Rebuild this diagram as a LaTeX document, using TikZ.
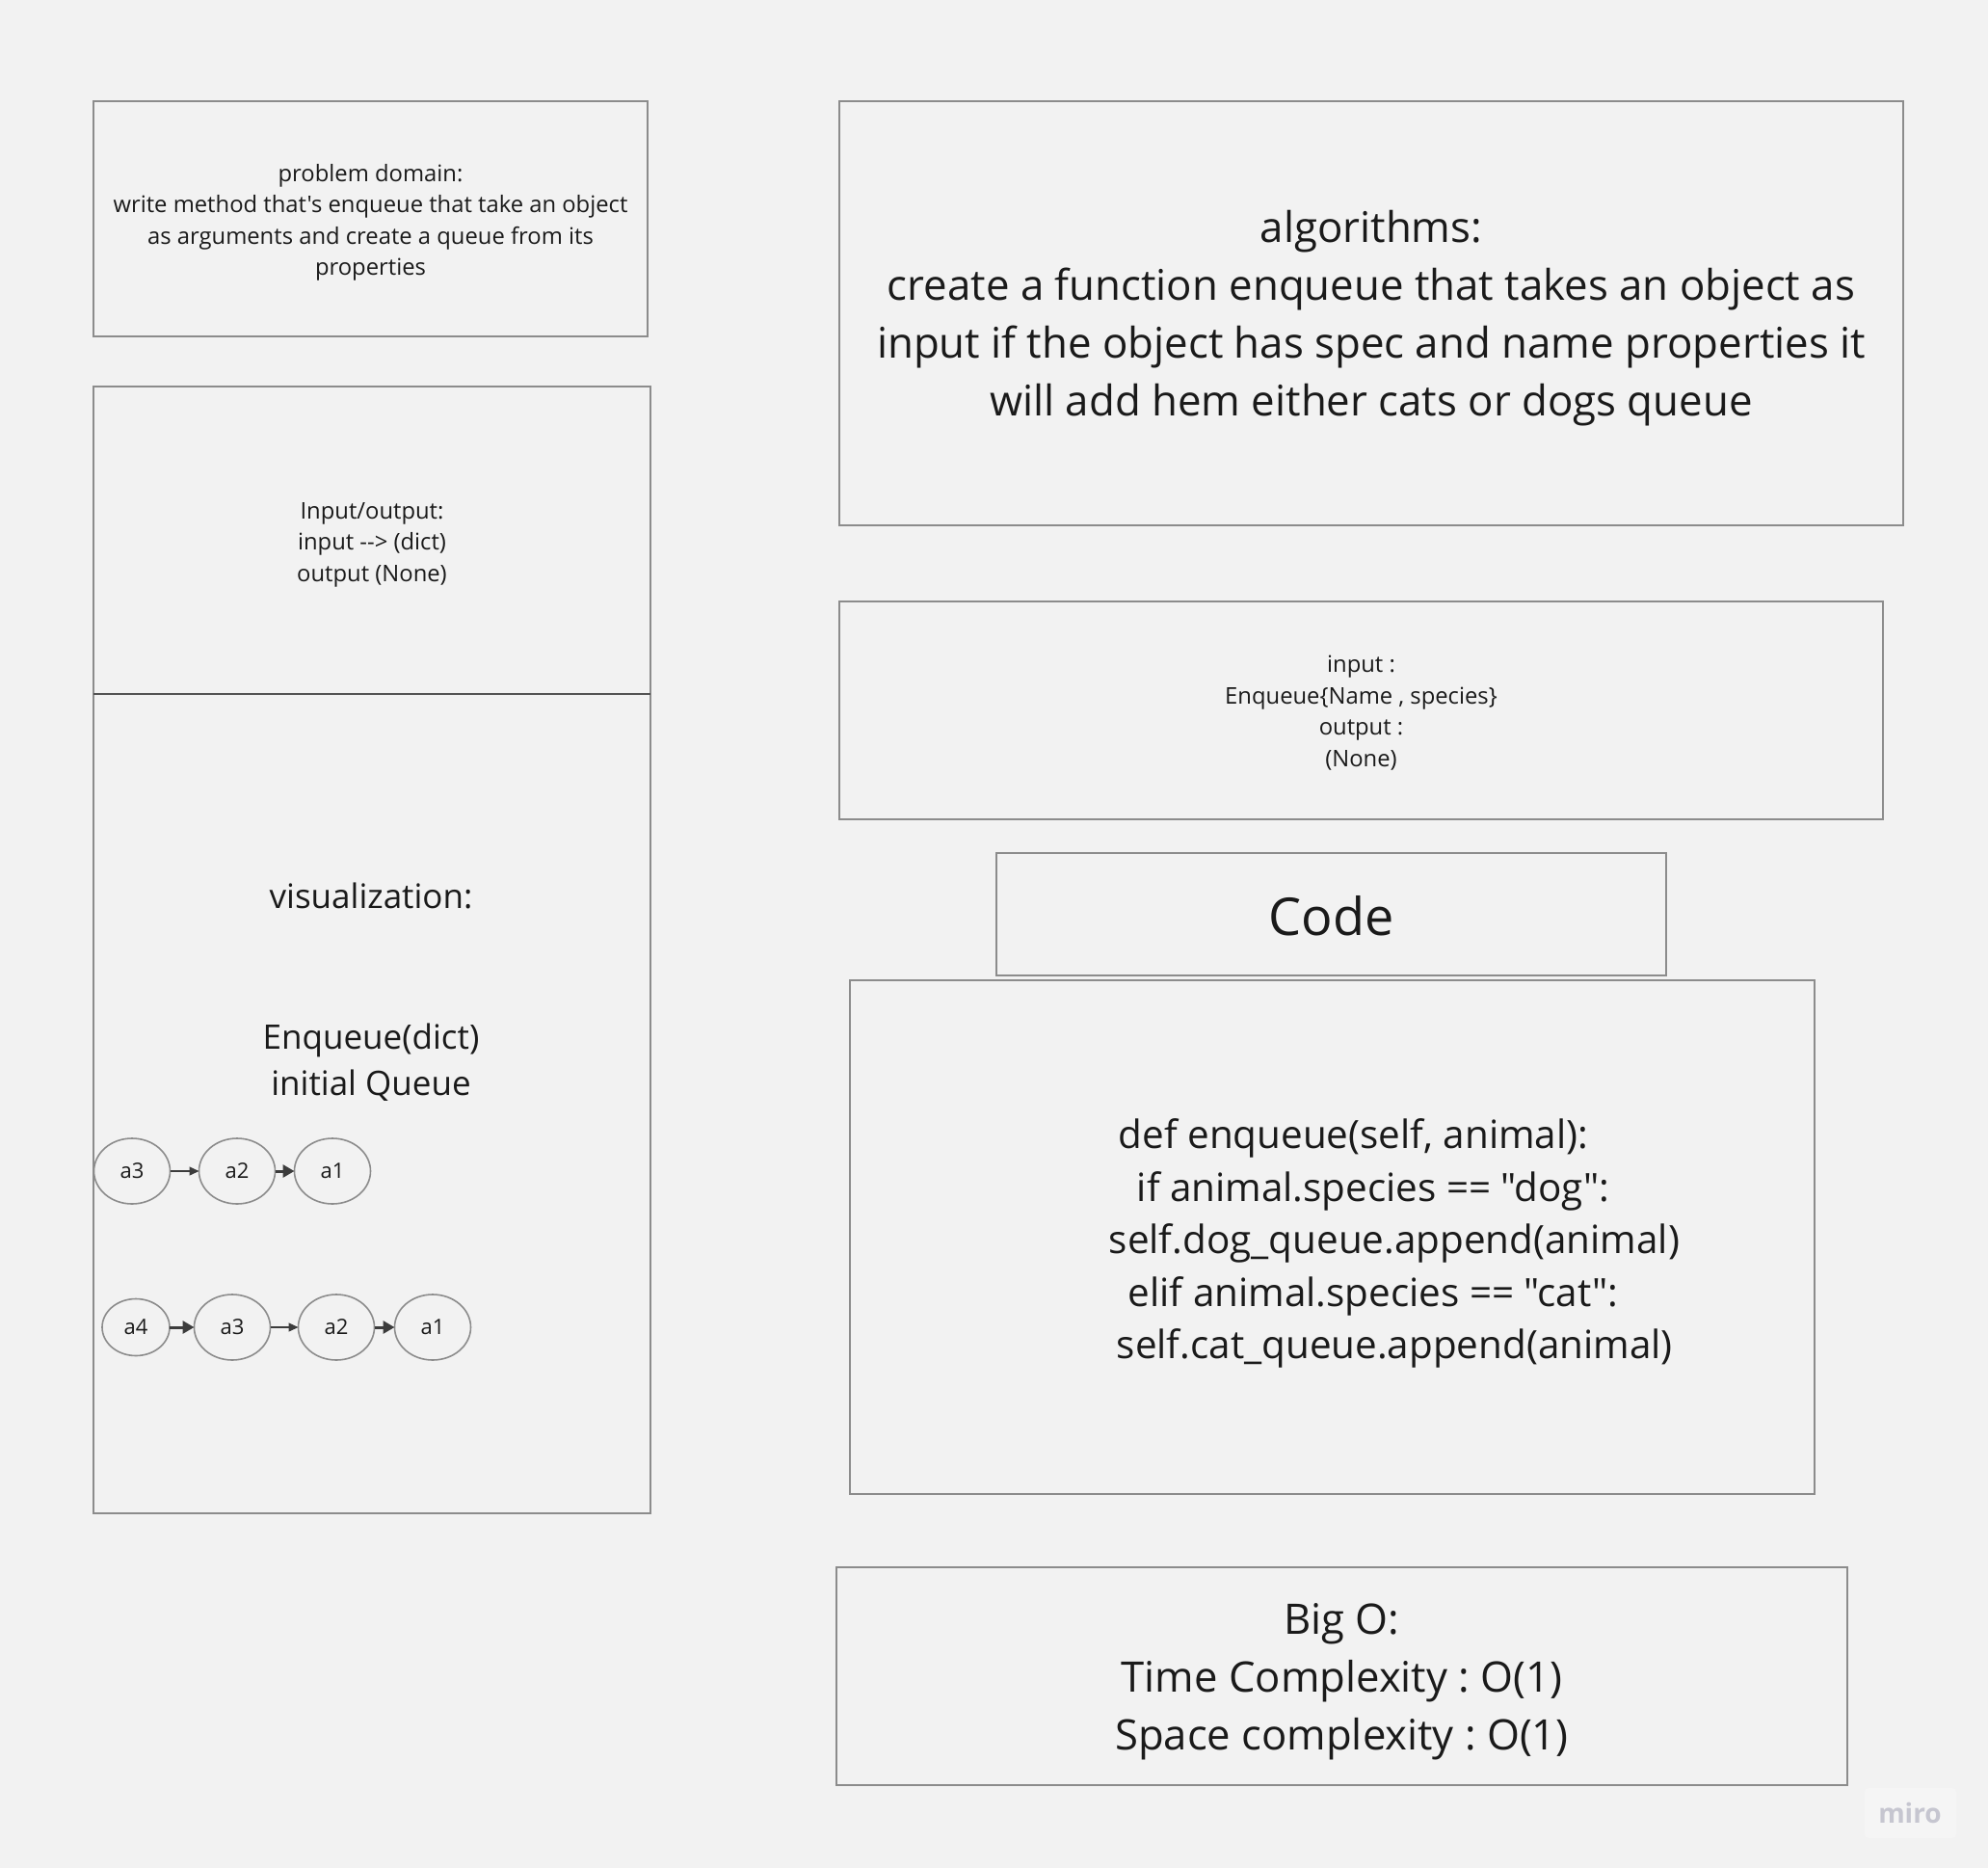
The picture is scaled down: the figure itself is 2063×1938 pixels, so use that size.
\documentclass[tikz,border=0pt]{standalone}
\usepackage{fontspec}
\setmainfont{Open Sans}[Ligatures=TeXOff]
\usetikzlibrary{shapes.geometric, arrows.meta}
\frenchspacing

\definecolor{bgcol}{HTML}{F2F2F2}
\definecolor{boxline}{HTML}{8C8C8C}
\definecolor{ink}{HTML}{1A1A1A}
\definecolor{mirogray}{HTML}{C6C6D0}

\begin{document}
\begin{tikzpicture}[x=0.5pt, y=-0.5pt, line width=0.8pt,
  box/.style={draw=boxline, inner sep=0pt, outer sep=0pt},
  txt/.style={text=ink, align=center, inner sep=0pt},
  small/.style={font=\fontsize{11.9}{16.25}\selectfont},
  mid/.style={font=\fontsize{17.5}{23.7}\selectfont},
  big/.style={font=\fontsize{21.9}{30}\selectfont},
  elem/.style={draw=boxline, ellipse, inner sep=0pt, outer sep=0pt, text=ink,
    font=\fontsize{11}{13}\selectfont, minimum width=39.5pt, minimum height=34pt},
  thinarrow/.style={draw=ink!85, line width=0.65pt, -{Triangle[length=5pt, width=4.5pt]}},
  thickarrow/.style={draw=ink!85, line width=1.5pt, -{Triangle[length=6pt, width=6.5pt]}}]

  % background and page size
  \fill[bgcol] (0,0) rectangle (2063,1938);
  \useasboundingbox (0,0) rectangle (2063,1938);

  % Left column
  \node[box, minimum width=287.5pt, minimum height=122pt] (problem) at (384.5,227) {};
  \node[txt, small] (problemtxt) at ([yshift=-2pt]problem.center)
    {problem domain:\\write method that's enqueue that take an object\\as arguments and create a queue from its\\properties};
  \node[box, minimum width=289pt, minimum height=159.5pt] (io) at (386,560.5) {};
  \node[txt, small] (iotxt) at ([yshift=-2.25pt]io.center)
    {Input/output:\\input --> (dict)\\output (None)};
  \node[box, minimum width=289pt, minimum height=425pt] (vizbox) at (386,1145) {};
  \draw[ink!75] (io.south west) -- (io.south east);
  \node[txt, mid] (viz) at (385,929) {visualization:};
  \node[txt, mid] (enq) at (385,1102) {Enqueue(dict)\\initial Queue};

  % Queue before
  \node[elem] (r1a3) at (137,1215) {a3};
  \node[elem] (r1a2) at (246,1215) {a2};
  \node[elem] (r1a1) at (345,1215) {a1};
  \draw[thinarrow] (r1a3) -- (r1a2);
  \draw[thickarrow] (r1a2) -- (r1a1);

  % Queue after
  \node[elem, minimum width=35pt, minimum height=29.5pt] (r2a4) at (141,1377) {a4};
  \node[elem] (r2a3) at (241,1377) {a3};
  \node[elem] (r2a2) at (349,1377) {a2};
  \node[elem] (r2a1) at (449,1377) {a1};
  \draw[thickarrow] (r2a4) -- (r2a3);
  \draw[thinarrow] (r2a3) -- (r2a2);
  \draw[thickarrow] (r2a2) -- (r2a1);

  % Right column
  \node[box, minimum width=552pt, minimum height=220pt] (algo) at (1423,325) {};
  \node[txt, big] (algotxt) at ([yshift=-2.5pt]algo.center)
    {algorithms:\\create a function enqueue that takes an object as\\input if the object has spec and name properties it\\will add hem either cats or dogs queue};
  \node[box, minimum width=541.5pt, minimum height=113pt] (inout) at (1412.5,737) {};
  \node[txt, small] (inouttxt) at ([yshift=-1.25pt]inout.center)
    {input :\\Enqueue\{Name , species\}\\output :\\(None)};
  \node[box, minimum width=347.5pt, minimum height=63.5pt] (codetitle) at (1381.5,948.5) {};
  \node[txt, font=\fontsize{27}{32}\selectfont] (codetitletxt) at ([yshift=-0.75pt]codetitle.center) {Code};
  \node[box, minimum width=500.5pt, minimum height=266.5pt] (codebox) at (1382.5,1283.5) {};
  \node[anchor=west, align=left, text=ink, inner sep=0pt, font=\fontsize{20.2}{27.3}\selectfont] (code) at (1150,1290)
    {\hspace*{5pt}def enqueue(self, animal):\\
     \hspace*{14.5pt}if animal.species == "dog":\\
     self.dog\_queue.append(animal)\\
     \hspace*{10pt}elif animal.species == "cat":\\
     \hspace*{4pt}self.cat\_queue.append(animal)};
  \node[box, minimum width=524.5pt, minimum height=113pt] (bigo) at (1392.5,1739) {};
  \node[txt, font=\fontsize{21.8}{30}\selectfont] (bigotxt) at ([yshift=-3pt]bigo.center)
    {Big O:\\Time Complexity : O(1)\\Space complexity : O(1)};

  % watermark
  \fill[white, opacity=0.25, rounded corners=2pt] (1935,1855) rectangle (2030,1907);
  \node[text=mirogray, font=\fontsize{14}{16}\selectfont\bfseries] (miro) at (1982,1881) {miro};

\end{tikzpicture}
\end{document}
